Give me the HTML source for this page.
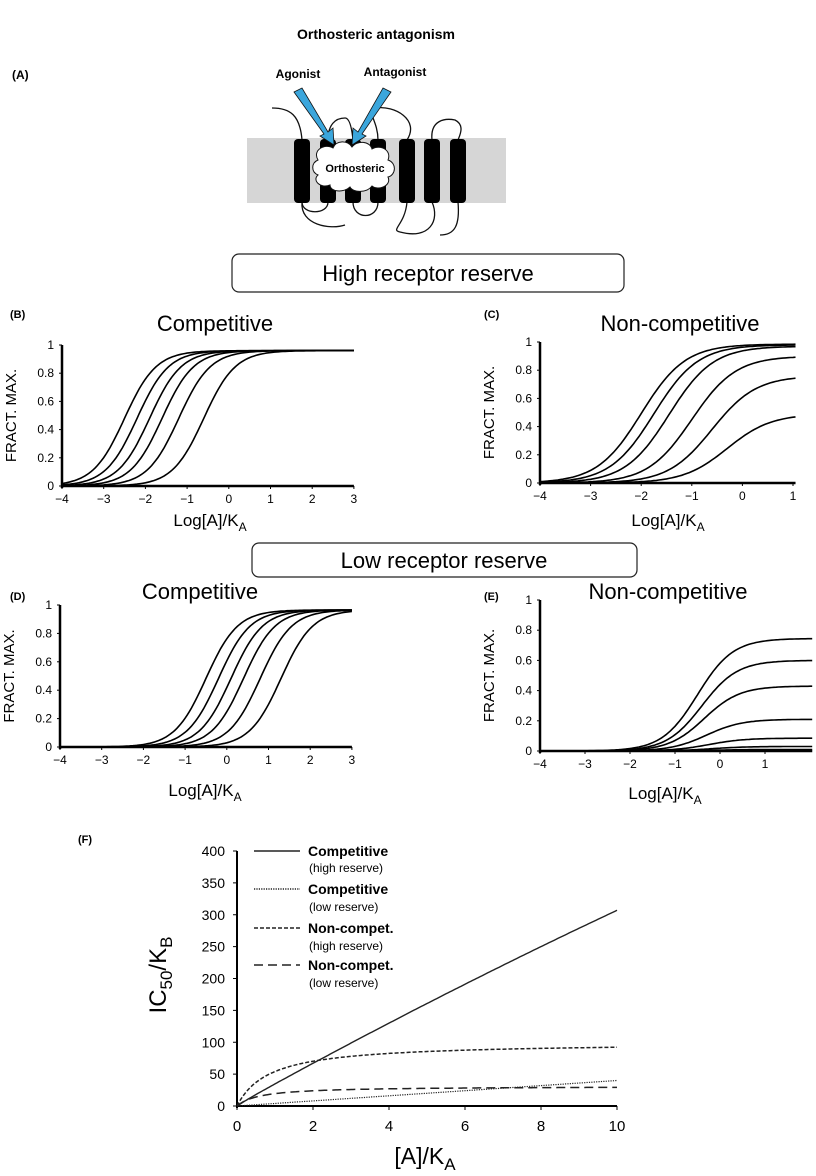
<!DOCTYPE html>
<html><head><meta charset="utf-8">
<style>
body{margin:0;background:#fff;}
svg{display:block;font-family:"Liberation Sans",sans-serif;}
</style></head>
<body>
<svg id="s" width="816" height="1176" viewBox="0 0 816 1176" xmlns="http://www.w3.org/2000/svg">
<rect width="816" height="1176" fill="#fff"/>
<text x="376" y="39" font-size="14" font-weight="bold" text-anchor="middle">Orthosteric antagonism</text>
<text x="12" y="79" font-size="12" font-weight="bold">(A)</text>
<rect x="247" y="138" width="259" height="65" fill="#d6d6d6"/>
<g fill="none" stroke="#111" stroke-width="1.3">
<path d="M272,108 C290,108 300,115 302,140"/>
<path d="M302,202 C302,215 328,215 328,202"/>
<path d="M328,140 C328,125 335,118 345,118 C350,118 352,130 353,140"/>
<path d="M353,202 C353,220 378,220 378,202"/>
<path d="M378,140 C378,120 365,110 375,108 C395,105 420,120 407,140"/>
<path d="M407,202 C405,225 390,230 400,232 C430,240 440,220 432,202"/>
<path d="M432,140 C430,120 445,118 455,120 C465,125 460,135 458,140"/>
<path d="M302,202 C300,225 330,230 345,225"/>
<path d="M458,202 C460,225 455,235 440,235"/>
</g>
<g fill="#000">
<rect x="294" y="139" width="16" height="64" rx="4"/>
<rect x="320" y="139" width="16" height="64" rx="4"/>
<rect x="345" y="139" width="16" height="64" rx="4"/>
<rect x="370" y="139" width="16" height="64" rx="4"/>
<rect x="399" y="139" width="16" height="64" rx="4"/>
<rect x="424" y="139" width="16" height="64" rx="4"/>
<rect x="450" y="139" width="16" height="64" rx="4"/>
</g>
<g fill="#fff" stroke="#111" stroke-width="1">
<path d="M318,160 C312,150 325,143 333,148 C336,140 348,140 352,147 C357,140 370,141 372,149 C380,144 392,150 388,160 C397,163 396,175 388,177 C392,186 378,191 372,186 C367,193 353,193 350,187 C344,193 330,192 330,185 C320,189 312,180 318,175 C311,172 311,163 318,160 Z"/>
</g>
<text x="355" y="172" font-size="11" font-weight="bold" text-anchor="middle">Orthosteric</text>
<g stroke="#111" stroke-width="0.8" fill="#3ba6dc">
<polygon points="294,92 302,88 328,132 333,128 334,145 320,136 324,134"/>
<polygon points="383,88 391,92 362,134 366,136 352,145 353,128 358,132"/>
</g>
<text x="298" y="78" font-size="12" font-weight="bold" text-anchor="middle">Agonist</text>
<text x="395" y="76" font-size="12" font-weight="bold" text-anchor="middle">Antagonist</text>
<rect x="232" y="254" width="392" height="38" rx="7" fill="#fff" stroke="#222" stroke-width="1.2"/>
<text x="428" y="281" font-size="22" text-anchor="middle">High receptor reserve</text>
<rect x="252" y="543" width="385" height="34" rx="7" fill="#fff" stroke="#222" stroke-width="1.2"/>
<text x="444" y="568" font-size="22" text-anchor="middle">Low receptor reserve</text>
<g id="plots"></g>
</svg>
<script>
var NS="http://www.w3.org/2000/svg",g=document.getElementById("plots");
function el(t,a,txt){var e=document.createElementNS(NS,t);for(var k in a)e.setAttribute(k,a[k]);if(txt!=null)e.textContent=txt;g.appendChild(e);return e;}
function hill(x,m,mx,n){return mx/(1+Math.pow(10,n*(m-x)));}
function panel(o){
 var X=function(v){return o.x0+(v-o.xmin)*o.sx;},Y=function(v){return o.y0-v*(o.y0-o.y1);};
 el("text",{x:o.lx,y:o.ly,"font-size":11,"font-weight":"bold"},o.lab);
 el("text",{x:o.tx,y:o.ty,"font-size":22,"text-anchor":"middle"},o.title);
 el("line",{x1:o.x0,y1:Y(1),x2:o.x0,y2:o.y0+2,stroke:"#000","stroke-width":2.5});
 el("line",{x1:o.x0,y1:o.y0,x2:X(o.xmax),y2:o.y0,stroke:"#000","stroke-width":2.5});
 [0,0.2,0.4,0.6,0.8,1].forEach(function(v){el("line",{x1:o.x0-3,y1:Y(v),x2:o.x0,y2:Y(v),stroke:"#000"});
  el("text",{x:o.x0-8,y:Y(v)+4,"font-size":12,"text-anchor":"end"},String(v));});
 for(var t=o.xmin;t<=o.xmaxTick;t++){el("line",{x1:X(t),y1:o.y0,x2:X(t),y2:o.y0+3,stroke:"#000"});
  el("text",{x:X(t),y:o.y0+17,"font-size":12,"text-anchor":"middle"},t<0?"\u2212"+(-t):String(t));}
 el("text",{x:0,y:0,"font-size":15,"text-anchor":"middle",transform:"translate("+(o.x0-46)+","+((o.y0+Y(1))/2)+") rotate(-90)"},"FRACT. MAX.");
 var xt=el("text",{x:o.xtx,y:o.xty,"font-size":17,"text-anchor":"middle"},"Log[A]/K");
 var ts=document.createElementNS(NS,"tspan");ts.setAttribute("font-size","12");ts.setAttribute("dy","5");ts.textContent="A";xt.appendChild(ts);
 o.curves.forEach(function(c){var d="";for(var x=o.xmin;x<=o.xmax+1e-9;x+=0.05){d+=(d?"L":"M")+X(x).toFixed(1)+","+Y(hill(x,c[0],c[1],c[2])).toFixed(1);}
  el("path",{d:d,fill:"none",stroke:"#000","stroke-width":1.6});});
}
panel({x0:62,y0:486,y1:345,xmin:-4,xmax:3,xmaxTick:3,sx:41.7,lab:"(B)",lx:10,ly:318,title:"Competitive",tx:215,ty:331,xtx:210,xty:526,
 curves:[[-2.5,0.96,1.15],[-2.2,0.96,1.15],[-1.9,0.96,1.15],[-1.6,0.96,1.15],[-1.2,0.96,1.15],[-0.6,0.96,1.15]]});
panel({x0:540,y0:483,y1:342,xmin:-4,xmax:1.05,xmaxTick:1,sx:50.6,lab:"(C)",lx:484,ly:318,title:"Non-competitive",tx:680,ty:331,xtx:668,xty:526,
 curves:[[-2.0,0.985,1.0],[-1.75,0.98,1.0],[-1.45,0.97,1.0],[-1.0,0.9,1.0],[-0.6,0.76,1.0],[-0.3,0.49,1.0]]});
panel({x0:60,y0:747,y1:605,xmin:-4,xmax:3,xmaxTick:3,sx:41.7,lab:"(D)",lx:10,ly:600,title:"Competitive",tx:200,ty:599,xtx:205,xty:796,
 curves:[[-0.5,0.965,1.15],[-0.2,0.965,1.15],[0.1,0.965,1.15],[0.4,0.965,1.15],[0.8,0.965,1.15],[1.3,0.965,1.15]]});
panel({x0:540,y0:751,y1:600,xmin:-4,xmax:2.05,xmaxTick:1,sx:45,lab:"(E)",lx:484,ly:600,title:"Non-competitive",tx:668,ty:599,xtx:665,xty:799,
 curves:[[-0.5,0.745,1.1],[-0.4,0.6,1.1],[-0.35,0.43,1.1],[-0.3,0.21,1.1],[-0.25,0.085,1.1],[-0.2,0.03,1.1],[-0.2,0.01,1.1]]});
(function(){
 var x0=237,y0=1106,y4=851,xe=617;
 var X=function(v){return x0+v*(xe-x0)/10;},Y=function(v){return y0-v*(y0-y4)/400;};
 el("text",{x:78,y:843,"font-size":11,"font-weight":"bold"},"(F)");
 el("line",{x1:x0,y1:y4,x2:x0,y2:y0+2,stroke:"#000","stroke-width":2});
 el("line",{x1:x0,y1:y0,x2:xe,y2:y0,stroke:"#000","stroke-width":2});
 for(var v=0;v<=400;v+=50){el("line",{x1:x0-4,y1:Y(v),x2:x0,y2:Y(v),stroke:"#000"});
  el("text",{x:x0-12,y:Y(v)+5,"font-size":14,"text-anchor":"end"},String(v));}
 for(var t=0;t<=10;t+=2){el("line",{x1:X(t),y1:y0,x2:X(t),y2:y0+4,stroke:"#000"});
  el("text",{x:X(t),y:y0+25,"font-size":15,"text-anchor":"middle"},String(t));}
 var yl=el("text",{x:0,y:0,"font-size":24,"text-anchor":"middle",transform:"translate(166,975) rotate(-90)"},"IC");
 var a=document.createElementNS(NS,"tspan");a.setAttribute("font-size","17");a.setAttribute("dy","6");a.textContent="50";yl.appendChild(a);
 a=document.createElementNS(NS,"tspan");a.setAttribute("dy","-6");a.textContent="/K";yl.appendChild(a);
 a=document.createElementNS(NS,"tspan");a.setAttribute("font-size","17");a.setAttribute("dy","6");a.textContent="B";yl.appendChild(a);
 var xt=el("text",{x:425,y:1164,"font-size":23,"text-anchor":"middle"},"[A]/K");
 a=document.createElementNS(NS,"tspan");a.setAttribute("font-size","17");a.setAttribute("dy","6");a.textContent="A";xt.appendChild(a);
 function line(f,dash,w){var d="";for(var x=0;x<=10.001;x+=0.05){d+=(d?"L":"M")+X(x).toFixed(1)+","+Y(f(x)).toFixed(1);}
  var at={d:d,fill:"none",stroke:"#222","stroke-width":w};if(dash)at["stroke-dasharray"]=dash;el("path",at);}
 line(function(x){return 33*x-0.25*x*x+2*(1-Math.exp(-x*3));},null,1.4);
 line(function(x){return 4*x;},"1.2,1.2",1.2);
 line(function(x){return 100*x/(0.85+x);},"4,2",1.5);
 line(function(x){return 31*x/(0.6+x);},"9,5",1.5);
 var L=[[856,869,"Competitive","(high reserve)",null],[894,908,"Competitive","(low reserve)","1.2,1.2"],[933,947,"Non-compet.","(high reserve)","4,2"],[970,984,"Non-compet.","(low reserve)","9,5"]];
 L.forEach(function(l){var at={x1:254,y1:l[0]-5,x2:300,y2:l[0]-5,stroke:"#222","stroke-width":1.4};if(l[4])at["stroke-dasharray"]=l[4];el("line",at);
  el("text",{x:308,y:l[0],"font-size":14,"font-weight":"bold"},l[2]);
  el("text",{x:309,y:l[1]+3,"font-size":12},l[3]);});
})();
</script>
</body></html>
